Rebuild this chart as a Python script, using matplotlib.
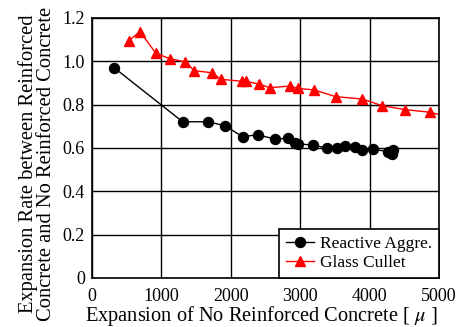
import numpy as np
import matplotlib.pyplot as plt

plt.rcParams['font.family'] = ['Liberation Serif', 'DejaVu Serif']
plt.rcParams['mathtext.fontset'] = 'stix'

# reactive aggregate series
ra_x = [321, 1307, 1667, 1916, 2171, 2387, 2637, 2829, 2925, 2973, 3189,
        3381, 3525, 3646, 3790, 3886, 4053, 4270, 4318, 4342]
ra_y = [0.970, 0.721, 0.721, 0.703, 0.652, 0.661, 0.641, 0.645, 0.622, 0.618,
        0.614, 0.599, 0.601, 0.611, 0.603, 0.591, 0.594, 0.583, 0.572, 0.591]

# glass cullet series
gc_x = [533, 692, 922, 1124, 1344, 1474, 1734, 1859, 2157, 2215, 2406, 2565,
        2853, 2963, 3203, 3511, 3895, 4183, 4510, 4870, 5150]
gc_y = [1.095, 1.137, 1.037, 1.012, 0.997, 0.957, 0.947, 0.917, 0.908, 0.908,
        0.895, 0.878, 0.886, 0.875, 0.868, 0.837, 0.826, 0.795, 0.777, 0.765,
        0.742]

xticks = [0, 1000, 2000, 3000, 4000, 5000]
yticks = [0, 0.2, 0.4, 0.6, 0.8, 1.0, 1.2]
ylabels = ['0', '0.2', '0.4', '0.6', '0.8', '1.0', '1.2']

fig = plt.figure(figsize=(4.62, 3.27), dpi=100)
ax = fig.add_axes([0.199, 0.150, 0.751, 0.795])

ax.plot(ra_x, ra_y, color='black', lw=1, marker='o', ms=7.2,
        label='Reactive Aggre.')
ax.plot(gc_x, gc_y, color='red', lw=1, marker='^', ms=7.2,
        label='Glass Cullet')

ax.set_xlim(0, 5000)
ax.set_ylim(0, 1.2)
ax.set_xticks(xticks)
ax.set_yticks(yticks)
ax.set_yticklabels(ylabels)
ax.tick_params(length=0, labelsize=13)
ax.tick_params(axis='x', pad=7)
ax.tick_params(axis='y', pad=5)
ax.grid(True, color='black', lw=1)
ax.set_axisbelow(True)
for s in ax.spines.values():
    s.set_linewidth(1.2)

ax.set_xlabel('Expansion of No Reinforced Concrete [ $\\mu$ ]', fontsize=14.7)
ax.xaxis.set_label_coords(0.487, -0.10)
ax.set_ylabel('Expansion Rate between Reinforced\nConcrete and No Reinforced Concrete',
              fontsize=14.8, linespacing=0.95)
ax.yaxis.set_label_coords(-0.104, 0.438)

leg = ax.legend(loc='lower right', fontsize=12.5, fancybox=False,
                edgecolor='black', framealpha=1, borderaxespad=0,
                handlelength=1.6, handletextpad=0.35, borderpad=0.4,
                labelspacing=0.15)
leg.get_frame().set_linewidth(1.2)

fig.savefig('out.png', dpi=100)
